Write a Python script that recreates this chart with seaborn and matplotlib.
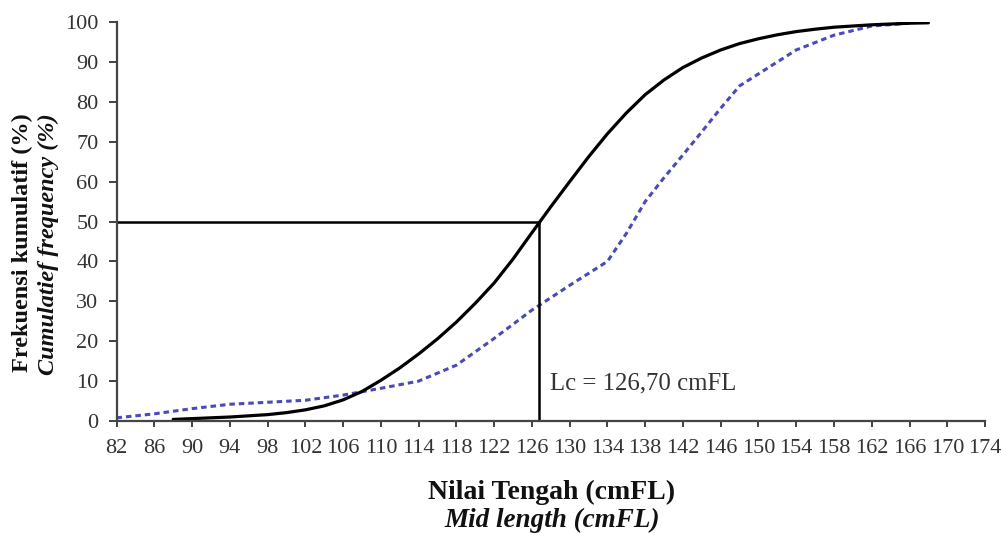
import numpy as np
import pandas as pd
import matplotlib
matplotlib.use("Agg")
import matplotlib.pyplot as plt
import seaborn as sns

# Observed cumulative frequency (blue dashed)
obs_x = [82, 86, 90, 94, 98, 102, 106, 110, 114, 118, 122, 126, 130, 132, 134,
         136, 138, 140, 142, 144, 146, 148, 150, 154, 158, 162, 166]
obs_y = [0.8, 1.8, 3.1, 4.2, 4.7, 5.2, 6.5, 8.2, 10.0, 14.0, 20.7, 27.8, 34.0, 37.0, 40.0,
         47.0, 55.0, 61.0, 66.7, 72.5, 78.4, 84.0, 87.0, 93.0, 96.7, 99.0, 99.7]

# Estimated (logistic) cumulative frequency (black solid)
est_x = [88, 90, 92, 94, 96, 98, 100, 102, 104, 106, 108, 110, 112, 114, 116, 118,
         120, 122, 124, 126, 128, 130, 132, 134, 136, 138, 140, 142, 144, 146, 148,
         150, 152, 154, 156, 158, 160, 162, 164, 166, 168]
est_y = [0.4, 0.6, 0.8, 1.0, 1.3, 1.6, 2.1, 2.8, 3.8, 5.3, 7.4, 10.2, 13.3, 16.8, 20.6, 24.8,
         29.5, 34.6, 40.6, 47.2, 53.7, 60.0, 66.2, 72.0, 77.2, 81.8, 85.5, 88.6, 91.0, 93.0, 94.6,
         95.8, 96.8, 97.6, 98.2, 98.7, 99.0, 99.3, 99.5, 99.7, 99.8]

lc_value = 126.70
lc_level = 50
x_ticks = list(range(82, 175, 4))
y_ticks = list(range(0, 101, 10))

sns.set_theme(style="ticks")
plt.rcParams['font.family'] = ['Liberation Serif', 'DejaVu Serif']

fig = plt.figure(figsize=(10.02, 5.33), dpi=100)
ax = fig.add_axes([0.1163, 0.2101, 0.8668, 0.7486])

df_obs = pd.DataFrame({"x": obs_x, "y": obs_y})
df_est = pd.DataFrame({"x": est_x, "y": est_y})

sns.lineplot(data=df_obs, x="x", y="y", ax=ax, color="#4a4ab8", linewidth=2.2,
             sort=True, estimator=None)
ax.lines[-1].set_dashes((1.8, 1.3))
sns.lineplot(data=df_est, x="x", y="y", ax=ax, color="black", linewidth=2.3,
             sort=True, estimator=None)
for ln in ax.lines:
    ln.set_solid_joinstyle("round")
    ln.set_dash_joinstyle("round")

ax.plot([82, lc_value], [lc_level, lc_level], color="black", linewidth=1.8,
        solid_capstyle="butt")
ax.plot([lc_value, lc_value], [0, lc_level], color="black", linewidth=1.8,
        solid_capstyle="butt")

ax.text(127.9, 9.5, "Lc = 126,70 cmFL", fontsize=17.8, color="#333333",
        va="center", ha="left")

ax.set_xlim(82, 174)
ax.set_ylim(0, 100)
ax.set_xticks(x_ticks)
ax.set_yticks(y_ticks)
ax.tick_params(axis="x", length=4, width=1.3, pad=9, labelsize=16,
               colors="#333333", direction="out")
ax.tick_params(axis="y", length=6, width=1.3, pad=7, labelsize=16,
               colors="#333333", direction="out")
for s in ["top", "right"]:
    ax.spines[s].set_visible(False)
for s in ["left", "bottom"]:
    ax.spines[s].set_linewidth(1.6)
    ax.spines[s].set_color("#444444")

ax.set_xlabel("")
ax.set_ylabel("")

fig.text(0.5509, 1 - 492 / 533, "Nilai Tengah (cmFL)", fontsize=20, fontweight="bold",
         ha="center", va="center", color="#111111")
fig.text(0.5509, 1 - 520 / 533, "Mid length (cmFL)", fontsize=19.5, fontweight="bold",
         fontstyle="italic", ha="center", va="center", color="#111111")
fig.text(22 / 1002, 1 - 243 / 533, "Frekuensi kumulatif (%)", fontsize=17.5, fontweight="bold",
         rotation=90, ha="center", va="center", color="#111111")
fig.text(48 / 1002, 1 - 244 / 533, "Cumulatief frequency (%)", fontsize=17.5, fontweight="bold",
         fontstyle="italic", rotation=90, ha="center", va="center", color="#111111")

fig.savefig("out.png", dpi=100)
